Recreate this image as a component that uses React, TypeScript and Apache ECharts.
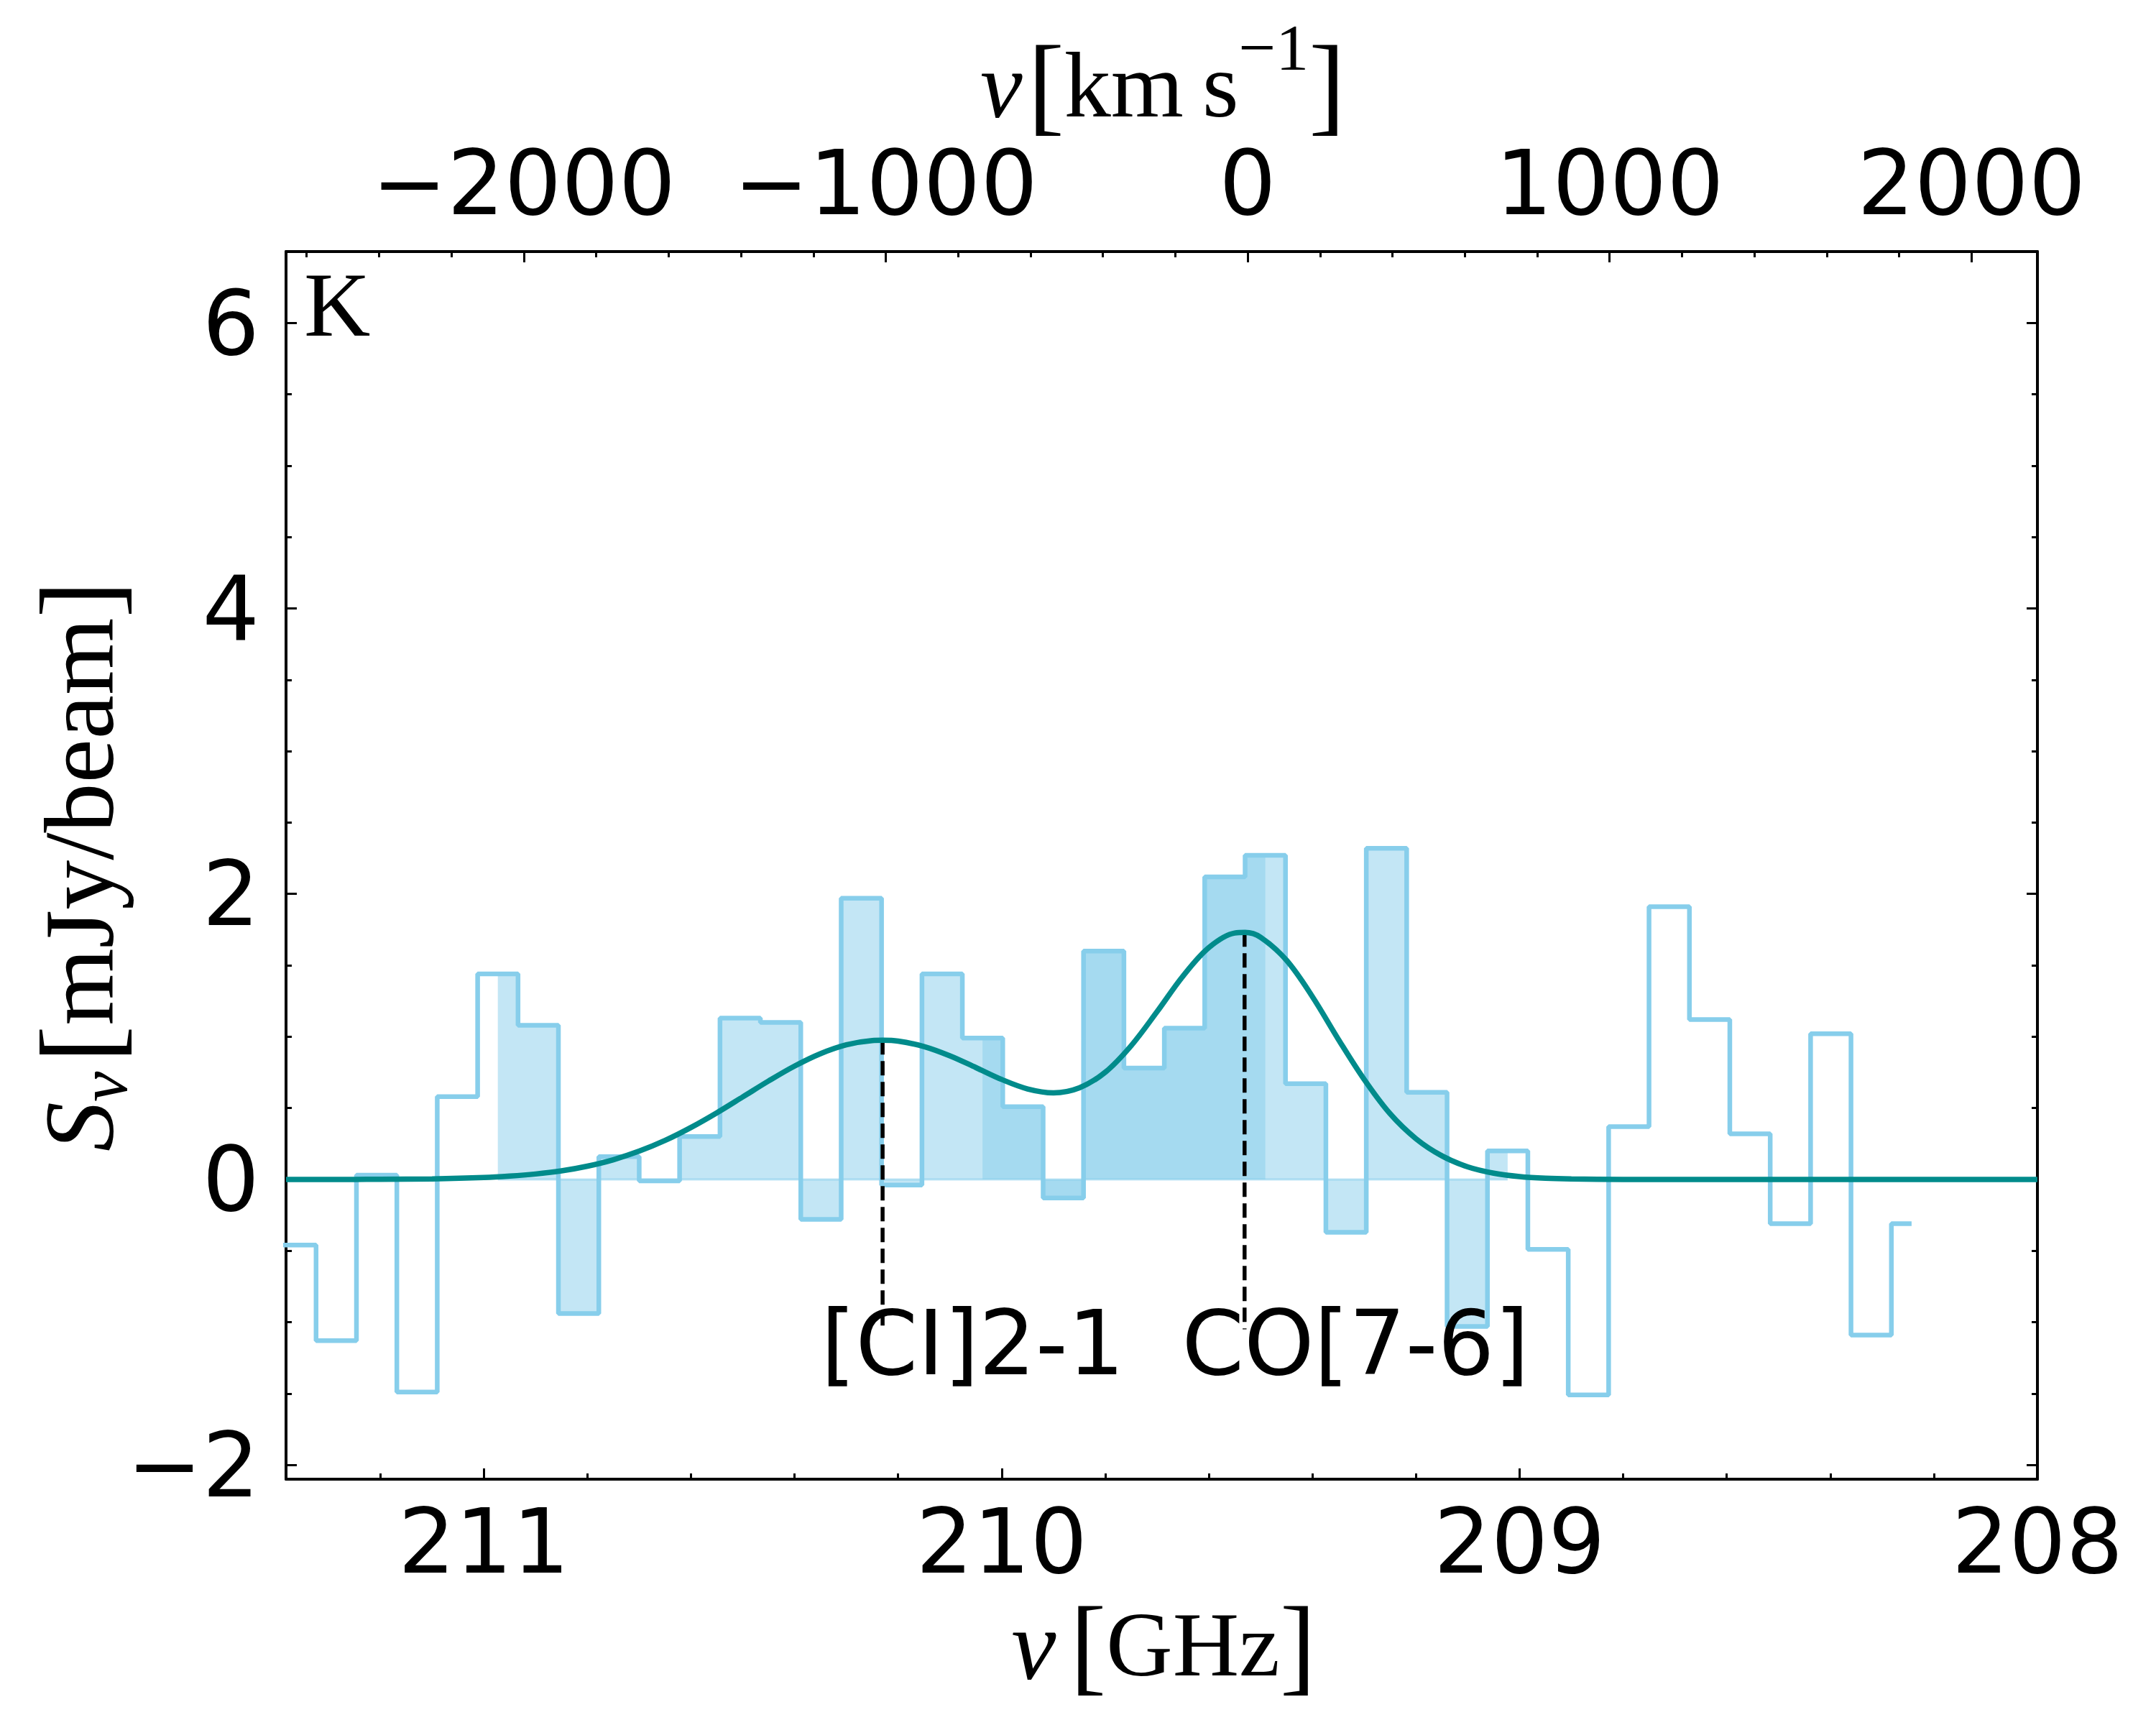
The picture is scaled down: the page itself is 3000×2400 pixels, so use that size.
import React, { useEffect, useRef } from 'react';
import * as echarts from 'echarts';

// ---------- data ----------
// channel centre frequencies [GHz] and flux densities [mJy/beam]
const CHAN_FREQ = [
  211.441, 211.363, 211.285, 211.207, 211.129, 211.051, 210.973, 210.895, 210.817, 210.739,
  210.661, 210.583, 210.505, 210.427, 210.349, 210.271, 210.193, 210.115, 210.037, 209.959,
  209.881, 209.803, 209.725, 209.647, 209.569, 209.491, 209.413, 209.335, 209.257, 209.179,
  209.101, 209.023, 208.945, 208.867, 208.789, 208.711, 208.633, 208.555, 208.477, 208.399,
  208.321, 208.243,
];
const CHAN_FLUX = [
  -0.46, -0.46, -1.13, 0.03, -1.49, 0.58, 1.44, 1.08, -0.94, 0.16,
  -0.01, 0.3, 1.13, 1.1, -0.28, 1.97, -0.04, 1.44, 0.99, 0.51,
  -0.13, 1.6, 0.78, 1.06, 2.12, 2.27, 0.67, -0.37, 2.32, 0.61,
  -1.03, 0.2, -0.49, -1.51, 0.37, 1.91, 1.12, 0.32, -0.31, 1.02,
  -1.09, -0.31,
];
// frequency ranges of the shaded regions [from, to] (GHz)
const FILL_WIDE = [210.973, 209.023];
const FILL_LINE = [210.037, 209.491];

// fitted model curve
const FIT_FREQ = [
  211.382, 211.3, 211.2, 211.1, 211.0, 210.95, 210.9, 210.85, 210.8, 210.75,
  210.7, 210.65, 210.6, 210.55, 210.5, 210.45, 210.4, 210.35, 210.3, 210.25,
  210.23, 210.2, 210.15, 210.1, 210.05, 210.0, 209.95, 209.9, 209.85, 209.8,
  209.75, 209.7, 209.65, 209.6, 209.55, 209.53, 209.5, 209.45, 209.4, 209.35,
  209.3, 209.25, 209.2, 209.15, 209.1, 209.05, 209.0, 208.95, 208.9, 208.8,
  208.0,
];
const FIT_FLUX = [
  0.0, 0.0, 0.001, 0.004, 0.013, 0.023, 0.038, 0.06, 0.093, 0.138,
  0.198, 0.273, 0.364, 0.467, 0.578, 0.69, 0.794, 0.881, 0.943, 0.973,
  0.975, 0.969, 0.931, 0.866, 0.784, 0.7, 0.634, 0.607, 0.642, 0.751,
  0.937, 1.175, 1.424, 1.624, 1.726, 1.73, 1.696, 1.535, 1.28, 0.982,
  0.7, 0.46, 0.285, 0.165, 0.088, 0.044, 0.02, 0.008, 0.003, 0.0,
  0.0,
];

// line identifications
const LINE_NAMES = ['[CI]2-1', 'CO[7-6]'];
const LINE_FREQ = [210.23, 209.531];
const LINE_PEAK = [0.975, 1.73];
const LINE_BOTTOM = -1.05;
const LABEL_FREQ = [210.35, 209.653];
const LABEL_FLUX = -1.15;

// axes
const FREQ_RANGE = [208, 211.382];
const FLUX_RANGE = [-2.1, 6.5];
const VEL_RANGE = [-2657, 2182];
const FREQ_MAJOR = [208, 209, 210, 211];
const FREQ_MINOR = [208.2, 208.4, 208.6, 208.8, 209.2, 209.4, 209.6, 209.8, 210.2, 210.4, 210.6, 210.8, 211.2];
const FLUX_MAJOR = [-2, 0, 2, 4, 6];
const FLUX_MINOR = [-1.5, -1, -0.5, 0.5, 1, 1.5, 2.5, 3, 3.5, 4.5, 5, 5.5];
const VEL_MAJOR = [-2000, -1000, 0, 1000, 2000];
const VEL_MINOR = [
  -2600, -2400, -2200, -1800, -1600, -1400, -1200, -800, -600, -400, -200,
  200, 400, 600, 800, 1200, 1400, 1600, 1800,
];

// ---------- styling ----------
const SANS = 'DejaVu Sans';
const SERIF = 'Liberation Serif';
const SKY = '#87CEEB';
const TEAL = '#008B8B';

const fmt = (v: number) => (v < 0 ? '\u2212' + Math.abs(v) : String(v));

function pairs(xs: number[], ys: number[]) {
  return xs.map((x, i) => [x, ys[i]]);
}
function inRange(lo: number, hi: number) {
  const out: number[][] = [];
  CHAN_FREQ.forEach((f, i) => {
    if (f <= Math.max(lo, hi) + 1e-6 && f >= Math.min(lo, hi) - 1e-6) out.push([f, CHAN_FLUX[i]]);
  });
  return out;
}

// rich-text token helper: shift > 0 moves the token down, < 0 up
function tok(size: number, shift: number, italic = false, weight = 'normal') {
  const t: any = { fontFamily: SERIF, fontSize: size, fontWeight: weight, lineHeight: 240, verticalAlign: 'middle' };
  if (italic) t.fontStyle = 'italic';
  if (shift > 0) t.padding = [2 * shift, 0, 0, 0];
  if (shift < 0) t.padding = [0, 0, -2 * shift, 0];
  return t;
}

function buildOption() {
  const axisLine = { show: true, onZero: false, lineStyle: { color: '#000', width: 4 } };
  const noLine = { show: false, onZero: false };
  const tick = (vals: number[], len: number) => ({
    show: true,
    inside: true,
    length: len,
    customValues: vals,
    lineStyle: { color: '#000', width: 3 },
  });
  const label = (vals: number[], margin: number) => ({
    show: true,
    customValues: vals,
    formatter: fmt,
    fontSize: 125,
    lineHeight: 125,
    fontFamily: SANS,
    color: '#000',
    margin,
  });
  const freqBase = {
    type: 'value',
    min: FREQ_RANGE[0],
    max: FREQ_RANGE[1],
    inverse: true,
    splitLine: { show: false },
    gridIndex: 0,
  };
  const velBase = {
    type: 'value',
    min: VEL_RANGE[0],
    max: VEL_RANGE[1],
    splitLine: { show: false },
    gridIndex: 0,
    position: 'top',
  };
  const fluxBase = {
    type: 'value',
    min: FLUX_RANGE[0],
    max: FLUX_RANGE[1],
    splitLine: { show: false },
    gridIndex: 0,
  };

  return {
    animation: false,
    backgroundColor: '#ffffff',
    grid: { left: 398, top: 350, width: 2437, height: 1708, containLabel: false },
    xAxis: [
      { ...freqBase, position: 'bottom', axisLine, axisTick: tick(FREQ_MAJOR, 15), axisLabel: label(FREQ_MAJOR, 24) },
      { ...freqBase, position: 'bottom', axisLine: noLine, axisTick: tick(FREQ_MINOR, 8), axisLabel: { show: false } },
      { ...velBase, axisLine, axisTick: tick(VEL_MAJOR, 15), axisLabel: label(VEL_MAJOR, 33) },
      { ...velBase, axisLine: noLine, axisTick: tick(VEL_MINOR, 8), axisLabel: { show: false } },
    ],
    yAxis: [
      { ...fluxBase, position: 'left', axisLine, axisTick: tick(FLUX_MAJOR, 15), axisLabel: label(FLUX_MAJOR, 37) },
      { ...fluxBase, position: 'left', axisLine: noLine, axisTick: tick(FLUX_MINOR, 8), axisLabel: { show: false } },
      { ...fluxBase, position: 'right', axisLine, axisTick: tick(FLUX_MAJOR, 15), axisLabel: { show: false } },
      { ...fluxBase, position: 'right', axisLine: noLine, axisTick: tick(FLUX_MINOR, 8), axisLabel: { show: false } },
    ],
    series: [
      {
        type: 'line',
        xAxisIndex: 0,
        yAxisIndex: 0,
        data: inRange(FILL_WIDE[0], FILL_WIDE[1]),
        step: 'middle',
        symbol: 'none',
        lineStyle: { opacity: 0, width: 0 },
        areaStyle: { color: SKY, opacity: 0.5 },
        silent: true,
        z: 1,
      },
      {
        type: 'line',
        xAxisIndex: 0,
        yAxisIndex: 0,
        data: inRange(FILL_LINE[0], FILL_LINE[1]),
        step: 'middle',
        symbol: 'none',
        lineStyle: { opacity: 0, width: 0 },
        areaStyle: { color: SKY, opacity: 0.5 },
        silent: true,
        z: 2,
      },
      {
        // faint lower edge of the shaded region along zero
        type: 'line',
        xAxisIndex: 0,
        yAxisIndex: 0,
        data: [
          [FILL_WIDE[0], 0],
          [FILL_WIDE[1], 0],
        ],
        symbol: 'none',
        lineStyle: { color: SKY, opacity: 0.55, width: 3 },
        silent: true,
        z: 2,
      },
      {
        type: 'line',
        xAxisIndex: 0,
        yAxisIndex: 0,
        data: pairs(CHAN_FREQ, CHAN_FLUX),
        step: 'middle',
        symbol: 'none',
        lineStyle: { color: SKY, width: 6.5 },
        silent: true,
        z: 3,
      },
      ...LINE_FREQ.map((f, i) => ({
        type: 'line',
        xAxisIndex: 0,
        yAxisIndex: 0,
        data: [
          [f, LINE_PEAK[i]],
          [f, LINE_BOTTOM],
        ],
        symbol: 'none',
        lineStyle: { color: '#000', width: 5.5, type: [20, 9] },
        silent: true,
        z: 4,
      })),
      {
        type: 'line',
        xAxisIndex: 0,
        yAxisIndex: 0,
        data: pairs(FIT_FREQ, FIT_FLUX),
        smooth: 0.35,
        symbol: 'none',
        lineStyle: { color: TEAL, width: 7.5 },
        silent: true,
        z: 5,
      },
      {
        type: 'scatter',
        xAxisIndex: 0,
        yAxisIndex: 0,
        data: LABEL_FREQ.map((f) => [f, LABEL_FLUX]),
        symbolSize: 1,
        itemStyle: { color: 'rgba(0,0,0,0)', opacity: 1 },
        label: {
          show: true,
          position: 'right',
          distance: 0,
          formatter: (p: any) => LINE_NAMES[p.dataIndex],
          fontSize: 124,
          fontFamily: SANS,
          color: '#000000',
          opacity: 1,
          align: 'left',
          verticalAlign: 'middle',
        },
        silent: true,
        z: 6,
      },
    ],
    graphic: [
      {
        type: 'text',
        x: 423,
        y: 424,
        z: 10,
        style: { text: 'K', fontFamily: SERIF, fontSize: 128, fill: '#000', align: 'left', verticalAlign: 'middle' },
      },
      {
        type: 'text',
        x: 1619,
        y: 2288,
        z: 10,
        style: {
          text: '{i|\u03bd}{sp| }{b|[}{r|GHz}{b|]}',
          align: 'center',
          verticalAlign: 'middle',
          fill: '#000',
          rich: { i: tok(140, 0, true), r: tok(128, 0), b: tok(150, 0), sp: tok(80, 0) },
        },
      },
      {
        type: 'text',
        x: 1618,
        y: 118,
        z: 10,
        style: {
          text: '{i|v}{sp| }{b|[}{r|km\u2009s}{sup|\u22121}{b|]}',
          align: 'center',
          verticalAlign: 'middle',
          fill: '#000',
          rich: { i: tok(132, 0, true), r: tok(130, 0), b: tok(152, 0), sp: tok(30, 0), sup: tok(92, -52) },
        },
      },
      {
        type: 'text',
        x: 110,
        y: 1205,
        rotation: Math.PI / 2,
        z: 10,
        style: {
          text: '{s|S}{sub|\u03bd}{sp| }{b|[}{r|mJy/beam}{b|]}',
          align: 'center',
          verticalAlign: 'middle',
          fill: '#000',
          rich: { s: tok(138, 0, true), sub: tok(95, 34, true), r: tok(138, 0), b: tok(155, 0), sp: tok(50, 0) },
        },
      },
    ],
  };
}

export default function App() {
  const ref = useRef<HTMLDivElement>(null);
  useEffect(() => {
    document.body.style.margin = '0';
    const el = ref.current;
    if (!el) return;
    const chart = echarts.init(el, null, { renderer: 'svg', width: 3000, height: 2400 });
    chart.setOption(buildOption() as any);
    return () => {
      chart.dispose();
    };
  }, []);
  return <div ref={ref} style={{ width: 3000, height: 2400, background: '#ffffff' }} />;
}
